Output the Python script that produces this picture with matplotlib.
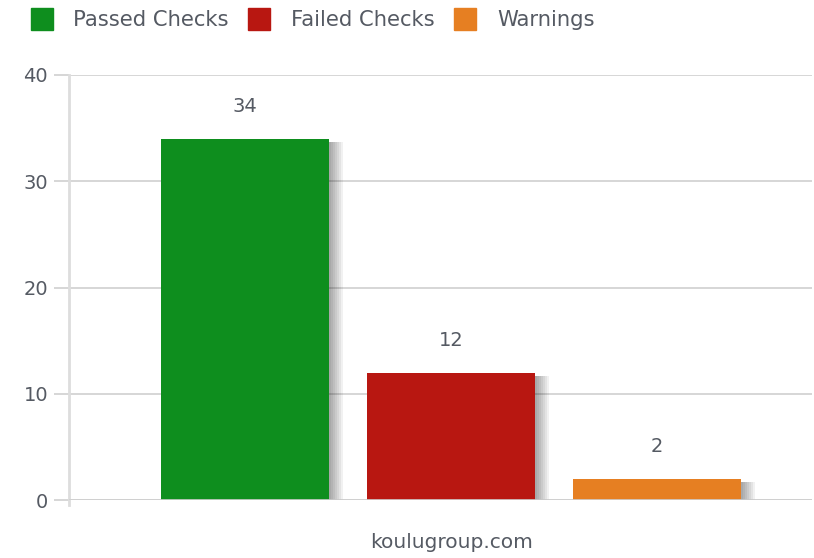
import matplotlib
matplotlib.use('Agg')
import matplotlib.pyplot as plt
from matplotlib.patches import Rectangle
from matplotlib.lines import Line2D

# data
labels = ['Passed Checks', 'Failed Checks', 'Warnings']
values = [34, 12, 2]
colors = ['#0E8E1E', '#B81711', '#E67F22']
yticks = [0, 10, 20, 30, 40]

TEXT = '#555a63'
GRID = '#cfcfcf'

W, H = 814, 558
fig = plt.figure(figsize=(W / 100, H / 100), dpi=100)
ax = fig.add_axes([69 / W, 1 - 500 / H, (812 - 69) / W, (500 - 75) / H])

width = 168 / 206
x = list(range(len(values)))

# soft drop shadow to the right of each bar
for xi, v in zip(x, values):
    for k in range(7):
        off = (2 + k * 2) / 206
        ax.add_patch(Rectangle((xi - width / 2 + off, 0), width, max(v - 0.3, 0),
                               facecolor='black', alpha=0.055, lw=0, zorder=2))

ax.bar(x, values, width=width, color=colors, zorder=3)

for xi, v in zip(x, values):
    ax.text(xi, v + 3.0, str(v), ha='center', va='center', fontsize=14, color=TEXT)

ax.set_xlim(-0.854, 2.752)
ax.set_ylim(0, 40)
ax.set_yticks(yticks)
ax.set_yticklabels([str(t) for t in yticks], fontsize=14, color=TEXT)
ax.tick_params(axis='y', length=11, color=GRID, width=1.2, pad=4)
ax.set_xticks([])
ax.yaxis.grid(True, color=GRID, lw=1.2, zorder=0)
for s in ['top', 'right', 'bottom']:
    ax.spines[s].set_visible(False)
ax.spines['left'].set_color('#dddddd')
ax.spines['left'].set_linewidth(2)
ax.spines['left'].set_bounds(-0.5, 40)
ax.axhline(0, color=GRID, lw=1.2, zorder=4)

fig.text(452 / W, 1 - 543 / H, 'koulugroup.com', ha='center', va='center',
         fontsize=14.5, color=TEXT)

handles = [Line2D([], [], marker='s', ls='', markersize=16, color=c) for c in colors]
fig.legend(handles, labels, loc='center left', bbox_to_anchor=(10 / W, 1 - 20 / H),
           ncol=3, frameon=False, fontsize=15.2, labelcolor=TEXT, handletextpad=0.9,
           columnspacing=0.85, handlelength=1.2)

fig.savefig('out.png', dpi=100)
